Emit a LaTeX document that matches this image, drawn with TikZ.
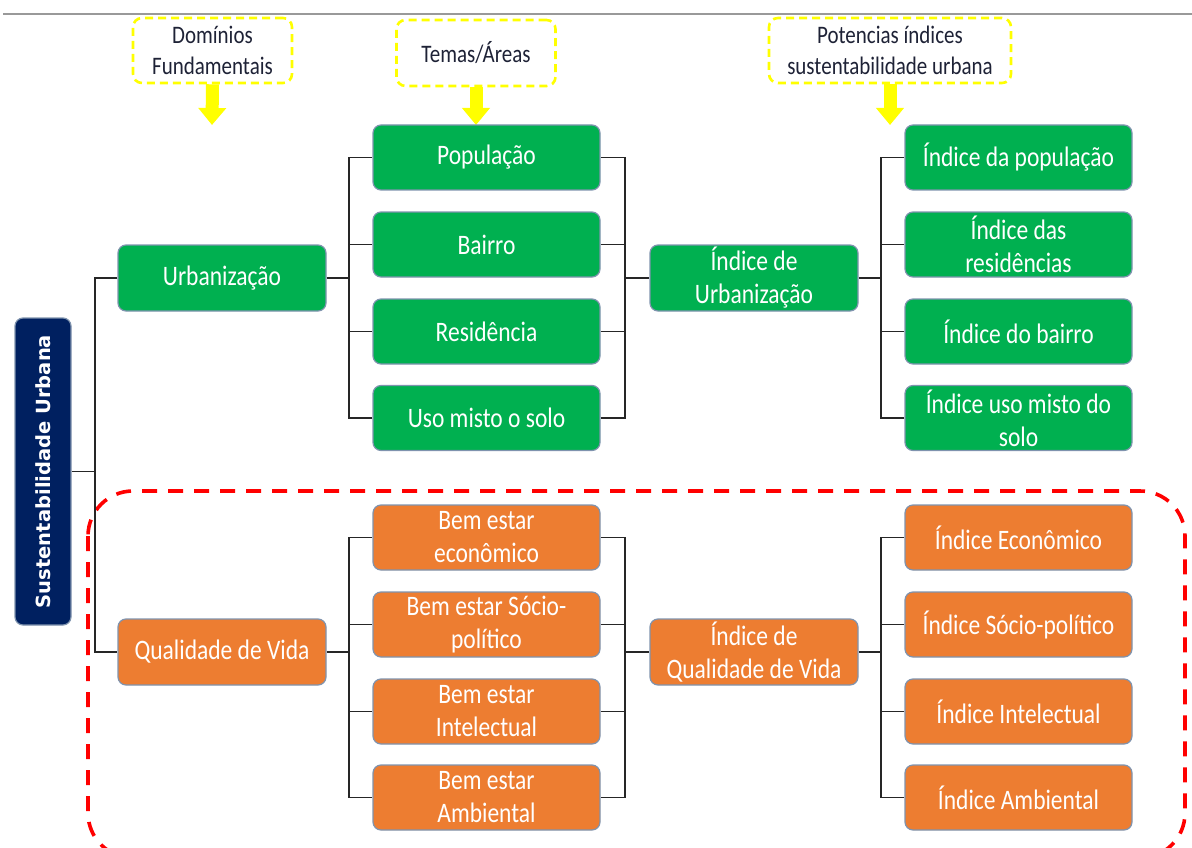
\documentclass[tikz,border=0pt]{standalone}
\usepackage{fontspec}
\setmainfont{Carlito}
\newfontfamily\dejab{DejaVu Sans}
\usetikzlibrary{arrows.meta}
\definecolor{grn}{HTML}{00B050}
\definecolor{org}{HTML}{ED7D31}
\definecolor{navy}{HTML}{002060}
\definecolor{edge}{HTML}{7F93AE}
\definecolor{ylw}{HTML}{FFFF00}
\definecolor{redd}{HTML}{FF0000}
\definecolor{toptext}{HTML}{1E2236}
\definecolor{rule}{HTML}{999999}
\newcommand{\vs}[1]{\scalebox{1}[1.2]{#1}}
\tikzset{
  box/.style={draw=edge, line width=1.2pt, rounded corners=8pt, minimum width=227, minimum height=65,
    align=center, text=white, inner sep=0pt, font=\fontsize{23.5}{33}\selectfont},
  gbox/.style={box, fill=grn},
  obox/.style={box, fill=org},
  topbox/.style={draw=ylw, line width=2.6pt, dash pattern=on 8pt off 5pt, rounded corners=9pt,
    minimum width=159, minimum height=65, align=center, text=toptext, inner sep=0pt,
    font=\fontsize{21}{31}\selectfont},
  conn/.style={draw=black!85, line width=1.3pt},
  yarrow/.style={draw=ylw, line width=13pt, -{Triangle[width=27pt,length=17pt]}},
}
\begin{document}
\begin{tikzpicture}[x=1pt,y=-1pt]
\useasboundingbox (0,0) rectangle (1192,848);
% top rule
\draw[rule, line width=2pt] (3,14) -- (1192,14);
% red dashed region
\draw[redd, line width=3.6pt, dash pattern=on 15pt off 11pt, rounded corners=45pt] (88,491) rectangle (1185,858);

% header boxes
\node[topbox] (h1) at (212.5,50.5) {\vs{Domínios}\\\vs{Fundamentais}};
\node[topbox, minimum width=159, minimum height=66] (h2) at (476,53) {\vs{Temas/Áreas}};
\node[topbox, minimum width=242] (h3) at (890,50.5) {\vs{Potencias índices}\\\vs{sustentabilidade urbana}};
\coordinate (a1) at (212,125);
\coordinate (a2) at (476,125);
\coordinate (a3) at (890,125);
\draw[yarrow] (h1.south) -- (a1);
\draw[yarrow] (h2.south) -- (a2);
\draw[yarrow] (h3.south) -- (a3);

% root
\node[draw=edge, line width=1.2pt, fill=navy, rounded corners=8pt, minimum width=56, minimum height=307, inner sep=0pt]
  (sust) at (43,471.5) {\rotatebox{90}{\dejab\bfseries\fontsize{19.5}{22}\selectfont\color{white}Sustentabilidade Urbana}};

% domains
\node[gbox, minimum width=208, minimum height=66] (urb) at (222,278) {\vs{Urbanização}};
\node[obox, minimum width=208, minimum height=66] (qv) at (222,652) {\vs{Qualidade de Vida}};

% themes
\node[gbox] (pop) at (486.5,157.5) {\vs{População}};
\node[gbox] (bai) at (486.5,244.5) {\vs{Bairro}};
\node[gbox] (res) at (486.5,331.5) {\vs{Residência}};
\node[gbox] (uso) at (486.5,418) {\vs{Uso misto o solo}};
\node[obox] (be1) at (486.5,537.5) {\vs{Bem estar}\\\vs{econômico}};
\node[obox] (be2) at (486.5,624.5) {\vs{Bem estar Sócio-}\\\vs{político}};
\node[obox] (be3) at (486.5,711.5) {\vs{Bem estar}\\\vs{Intelectual}};
\node[obox] (be4) at (486.5,797.5) {\vs{Bem estar}\\\vs{Ambiental}};

% indices
\node[gbox, minimum width=208, minimum height=66] (iu) at (754,278) {\vs{Índice de}\\\vs{Urbanização}};
\node[obox, minimum width=208, minimum height=66] (iqv) at (754,652) {\vs{Índice de}\\\vs{Qualidade de Vida}};

% potential indices
\node[gbox] (ip1) at (1018.5,157.5) {\vs{Índice da população}};
\node[gbox] (ip2) at (1018.5,244.5) {\vs{Índice das}\\\vs{residências}};
\node[gbox] (ip3) at (1018.5,331.5) {\vs{Índice do bairro}};
\node[gbox] (ip4) at (1018.5,418) {\vs{Índice uso misto do}\\\vs{solo}};
\node[obox] (iq1) at (1018.5,537.5) {\vs{Índice Econômico}};
\node[obox] (iq2) at (1018.5,624.5) {\vs{Índice Sócio-político}};
\node[obox] (iq3) at (1018.5,711.5) {\vs{Índice Intelectual}};
\node[obox] (iq4) at (1018.5,797.5) {\vs{Índice Ambiental}};

% junctions
\coordinate (j0) at (95,471.5);
\coordinate (j1) at (349,278);
\coordinate (j2) at (625,278);
\coordinate (j3) at (881,278);
\coordinate (j4) at (349,652);
\coordinate (j5) at (625,652);
\coordinate (j6) at (881,652);

\draw[conn] (sust.east) -- (j0);
\draw[conn] (urb.west) -| (j0) |- (qv.west);

\draw[conn] (urb.east) -- (j1);
\foreach \n in {pop,bai,res,uso} \draw[conn] (\n.west) -| (j1);
\foreach \n in {pop,bai,res,uso} \draw[conn] (\n.east) -| (j2);
\draw[conn] (j2) -- (iu.west);
\draw[conn] (iu.east) -- (j3);
\foreach \n in {ip1,ip2,ip3,ip4} \draw[conn] (\n.west) -| (j3);

\draw[conn] (qv.east) -- (j4);
\foreach \n in {be1,be2,be3,be4} \draw[conn] (\n.west) -| (j4);
\foreach \n in {be1,be2,be3,be4} \draw[conn] (\n.east) -| (j5);
\draw[conn] (j5) -- (iqv.west);
\draw[conn] (iqv.east) -- (j6);
\foreach \n in {iq1,iq2,iq3,iq4} \draw[conn] (\n.west) -| (j6);
\end{tikzpicture}
\end{document}
